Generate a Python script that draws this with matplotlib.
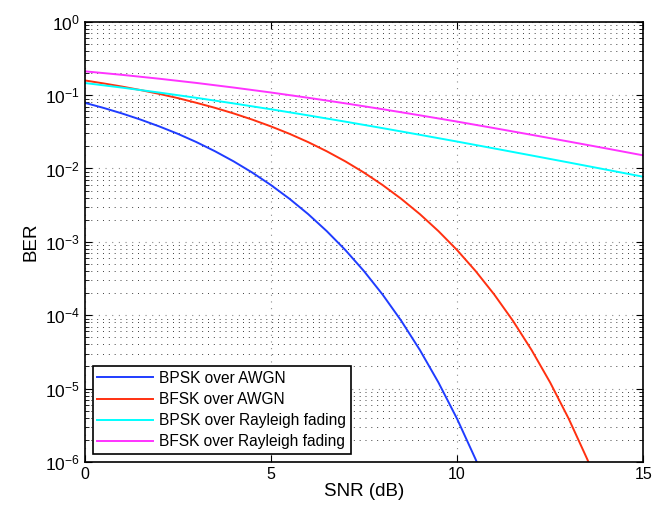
import matplotlib
matplotlib.use('Agg')
import matplotlib.pyplot as plt
from matplotlib.ticker import LogLocator, NullFormatter, FixedLocator

plt.rcParams['font.family'] = ['Liberation Sans', 'DejaVu Sans']
plt.rcParams['mathtext.fontset'] = 'custom'
plt.rcParams['mathtext.rm'] = 'Liberation Sans'
plt.rcParams['mathtext.it'] = 'Liberation Sans'

# SNR (dB) sample points
snr_bpsk_awgn = [0, 0.5, 1, 1.5, 2, 2.5, 3, 3.5, 4, 4.5, 5, 5.5, 6, 6.5, 7, 7.5,
                 8, 8.5, 9, 9.5, 10, 10.5, 11]
ber_bpsk_awgn = [0.0786, 0.0671, 0.0563, 0.0464, 0.0375, 0.0297, 0.0229, 0.01717,
                 0.0125, 0.00879, 0.00595, 0.00386, 0.00239, 0.0014, 7.73e-4, 3.99e-4,
                 1.91e-4, 8.40e-5, 3.36e-5, 1.21e-5, 3.87e-6, 1.08e-6, 2.61e-7]

snr_bfsk_awgn = [0, 0.5, 1, 1.5, 2, 2.5, 3, 3.5, 4, 4.5, 5, 5.5, 6, 6.5, 7, 7.5,
                 8, 8.5, 9, 9.5, 10, 10.5, 11, 11.5, 12, 12.5, 13, 13.5, 14]
ber_bfsk_awgn = [0.1587, 0.1447, 0.1309, 0.1173, 0.1040, 0.0912, 0.0786, 0.0671,
                 0.0563, 0.0464, 0.0375, 0.0297, 0.0229, 0.01717, 0.0125, 0.00879,
                 0.00595, 0.00386, 0.00239, 0.0014, 7.73e-4, 3.99e-4, 1.91e-4,
                 8.40e-5, 3.36e-5, 1.21e-5, 3.87e-6, 1.08e-6, 2.61e-7]

snr_rayleigh = [0, 1, 2, 3, 4, 5, 6, 7, 8, 9, 10, 11, 12, 13, 14, 15]
ber_bpsk_rayleigh = [0.1464, 0.1267, 0.1085, 0.0919, 0.0771, 0.0642, 0.0530, 0.0435,
                     0.0355, 0.0288, 0.0233, 0.01875, 0.01506, 0.01208, 0.00966, 0.00772]
ber_bfsk_rayleigh = [0.2113, 0.1892, 0.1675, 0.1467, 0.1269, 0.1087, 0.0921, 0.0773,
                     0.0643, 0.0531, 0.0436, 0.0355, 0.0288, 0.0233, 0.0188, 0.0151]

etiquetas = ['BPSK over AWGN', 'BFSK over AWGN',
             'BPSK over Rayleigh fading', 'BFSK over Rayleigh fading']

fig = plt.figure(figsize=(6.57, 5.07), dpi=100)
ax = fig.add_axes([0.129, 0.089, 0.850, 0.868])

ax.semilogy(snr_bpsk_awgn, ber_bpsk_awgn, color='#1f3cff', lw=1.4, label=etiquetas[0])
ax.semilogy(snr_bfsk_awgn, ber_bfsk_awgn, color='#ff3010', lw=1.4, label=etiquetas[1])
ax.semilogy(snr_rayleigh, ber_bpsk_rayleigh, color='#00ffff', lw=1.4, label=etiquetas[2])
ax.semilogy(snr_rayleigh, ber_bfsk_rayleigh, color='#ff33ff', lw=1.4, label=etiquetas[3])

ax.set_xlim(0, 15)
ax.set_ylim(1e-6, 1)
ax.xaxis.set_major_locator(FixedLocator([0, 5, 10, 15]))
ax.yaxis.set_major_locator(LogLocator(base=10, numticks=10))
ax.yaxis.set_minor_locator(LogLocator(base=10, subs=range(2, 10), numticks=10))
ax.yaxis.set_minor_formatter(NullFormatter())
ax.xaxis.get_offset_text().set_visible(False)
ax.yaxis.get_offset_text().set_visible(False)

ax.grid(True, which='major', linestyle=(0, (1, 5)), color='0.55', lw=0.8)
ax.grid(True, which='minor', axis='y', linestyle=(0, (1, 5)), color='0.25', lw=0.7)

ax.tick_params(which='both', direction='in', top=True, right=True)
ax.tick_params(axis='x', labelsize=11.5)
ax.tick_params(axis='y', labelsize=12.5)
ax.tick_params(which='major', length=5)
ax.tick_params(which='minor', length=3)
for s in ax.spines.values():
    s.set_linewidth(1.2)

ax.set_xlabel('SNR (dB)', fontsize=13.5, labelpad=1)
ax.set_ylabel('BER', fontsize=13.5)

leg = ax.legend(loc='lower left', fontsize=11.2, frameon=True, fancybox=False,
                borderaxespad=0.5, handlelength=3.6, labelspacing=0.4,
                borderpad=0.3, handletextpad=0.4)
leg.get_frame().set_edgecolor('black')
leg.get_frame().set_linewidth(1.2)
leg.get_frame().set_alpha(1)

plt.savefig('out.png', dpi=100)
